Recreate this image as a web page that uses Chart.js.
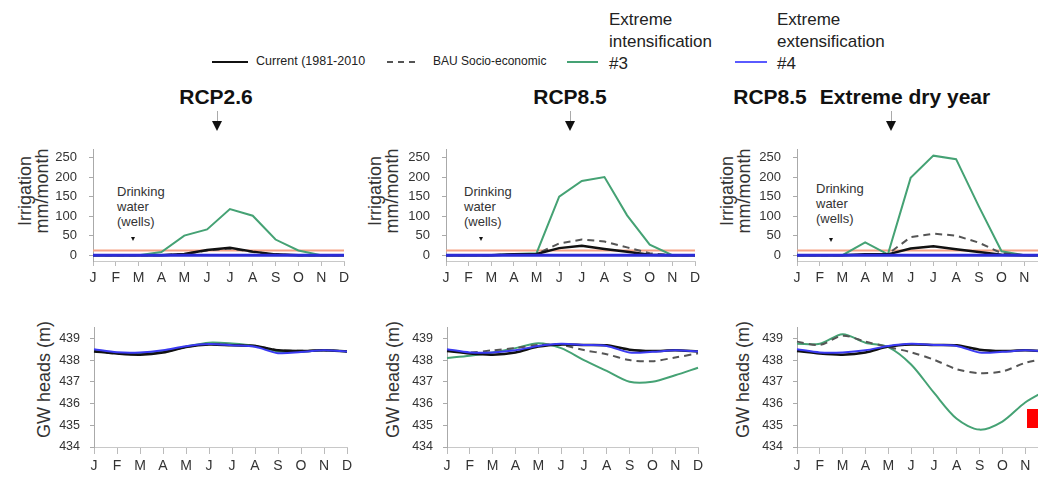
<!DOCTYPE html>
<html>
<head>
<meta charset="utf-8">
<script src="https://cdn.jsdelivr.net/npm/chart.js@4.4.0/dist/chart.umd.min.js"></script>
<style>
  html, body { margin: 0; padding: 0; }
  body {
    width: 1038px; height: 478px; overflow: hidden; position: relative;
    background: #fff; font-family: "Liberation Sans", Arial, sans-serif; color: #222;
  }
  canvas.panel { position: absolute; }
  .title { position: absolute; font-weight: bold; font-size: 21px; transform: translate(-50%, -50%); white-space: nowrap; color: #111; }
  .stem { position: absolute; width: 1px; height: 10px; background: #aaa; }
  .head { position: absolute; width: 0; height: 0; border-left: 5px solid transparent; border-right: 5px solid transparent; border-top: 10px solid #111; }
  .ytitle { position: absolute; width: 140px; text-align: center; font-size: 18px; line-height: 17px; transform: rotate(-90deg); color: #333; white-space: nowrap; }
  .note { position: absolute; font-size: 13px; line-height: 15px; color: #333; }
  .mark { position: absolute; width: 0; height: 0; border-left: 2px solid transparent; border-right: 2px solid transparent; border-top: 4px solid #111; }
  .legline { position: absolute; height: 0; }
  .legtext { position: absolute; white-space: nowrap; color: #222; }
</style>
</head>
<body>

<!-- legend -->
<div class="legline" style="left:212px; top:61px; width:36px; border-top:2.5px solid #111;"></div>
<div class="legtext" style="left:256px; top:54px; font-size:12.5px;">Current (1981-2010</div>
<div class="legline" style="left:387px; top:61px; width:28px; border-top:2px dashed #555;"></div>
<div class="legtext" style="left:433px; top:54px; font-size:12px;">BAU Socio-economic</div>
<div class="legline" style="left:567px; top:61px; width:31px; border-top:2px solid #45a274;"></div>
<div class="legtext" style="left:609px; top:9px; font-size:17px; line-height:22px;">Extreme<br>intensification<br>#3</div>
<div class="legline" style="left:735px; top:61px; width:32px; border-top:2px solid #5a5aff;"></div>
<div class="legtext" style="left:777px; top:9px; font-size:17px; line-height:22px;">Extreme<br>extensification<br>#4</div>

<!-- panel titles and arrows -->
<div class="title" style="left:216px; top:97px;">RCP2.6</div>
<div class="title" style="left:570px; top:97px;">RCP8.5</div>
<div class="title" style="left:770px; top:97px;">RCP8.5</div>
<div class="title" style="left:905px; top:97px;">Extreme dry year</div>
<div class="stem" style="left:217px; top:111px;"></div><div class="head" style="left:212px; top:121px;"></div>
<div class="stem" style="left:570px; top:111px;"></div><div class="head" style="left:565px; top:121px;"></div>
<div class="stem" style="left:891px; top:111px;"></div><div class="head" style="left:886px; top:121px;"></div>

<!-- axis titles -->
<div class="ytitle" style="left:-36px; top:174px;">Irrigation<br>mm/month</div>
<div class="ytitle" style="left:314px; top:174px;">Irrigation<br>mm/month</div>
<div class="ytitle" style="left:666px; top:174px;">Irrigation<br>mm/month</div>
<div class="ytitle" style="left:-26px; top:371px;">GW heads (m)</div>
<div class="ytitle" style="left:323px; top:371px;">GW heads (m)</div>
<div class="ytitle" style="left:673px; top:371px;">GW heads (m)</div>

<!-- drinking water notes -->
<div class="note" style="left:117px; top:184px;">Drinking<br>water<br>(wells)</div>
<div class="mark" style="left:131px; top:237px;"></div>
<div class="note" style="left:464px; top:184px;">Drinking<br>water<br>(wells)</div>
<div class="mark" style="left:479px; top:237px;"></div>
<div class="note" style="left:816px; top:181px;">Drinking<br>water<br>(wells)</div>
<div class="mark" style="left:829px; top:238px;"></div>

<canvas class="panel" id="irr26"></canvas>
<canvas class="panel" id="irr85"></canvas>
<canvas class="panel" id="irrDry"></canvas>
<canvas class="panel" id="gw26"></canvas>
<canvas class="panel" id="gw85"></canvas>
<canvas class="panel" id="gwDry"></canvas>

<div style="position:absolute; left:1027px; top:409px; width:11px; height:19px; background:#ff0000;"></div>

<script>
const months = ["J", "F", "M", "A", "M", "J", "J", "A", "S", "O", "N", "D"];
const irrTicks = [0, 50, 100, 150, 200, 250];
const irrMinorTicks = [0, 25, 50, 75, 100, 125, 150, 175, 200, 225, 250];
const gwTicks = [434, 435, 436, 437, 438, 439];
const gwMinorTicks = [434, 434.5, 435, 435.5, 436, 436.5, 437, 437.5, 438, 438.5, 439, 439.5];

const drinkingWater = [12, 12, 12, 12, 12, 12, 12, 12, 12, 12, 12, 12];

// irrigation, mm/month
const irr26Current = [0, 0, 0, 0, 3, 13, 19, 9, 2, 0, 0, 0];
const irr26Bau     = [0, 0, 0, 0, 3, 12, 17, 8, 2, 0, 0, 0];
const irr26Int     = [0, 0, 0, 8, 50, 66, 118, 101, 40, 12, 0, 0];
const irr26Ext     = [0, 0, 0, 0, 0, 0, 0, 0, 0, 0, 0, 0];

const irr85Current = [0, 0, 0, 2, 3, 18, 24, 16, 9, 1, 0, 0];
const irr85Bau     = [0, 0, 0, 2, 3, 30, 40, 35, 20, 5, 0, 0];
const irr85Int     = [0, 0, 0, 3, 5, 150, 190, 200, 102, 27, 0, 0];
const irr85Ext     = [0, 0, 0, 0, 0, 0, 0, 0, 0, 0, 0, 0];

const irrDryCurrent = [0, 0, 0, 2, 2, 17, 23, 15, 8, 1, 0, 0];
const irrDryBau     = [0, 0, 0, 1, 3, 46, 55, 50, 32, 5, 0, 0];
const irrDryInt     = [0, 0, 0, 33, 2, 198, 255, 246, 125, 10, 0, 0];
const irrDryExt     = [0, 0, 0, 0, 0, 0, 0, 0, 0, 0, 0, 0];

// groundwater heads, m
const gw26Current = [438.4, 438.3, 438.25, 438.35, 438.6, 438.72, 438.68, 438.65, 438.45, 438.42, 438.45, 438.4];
const gw26Bau     = [438.42, 438.3, 438.27, 438.36, 438.6, 438.73, 438.7, 438.66, 438.46, 438.43, 438.45, 438.4];
const gw26Int     = [438.45, 438.32, 438.3, 438.4, 438.62, 438.8, 438.76, 438.65, 438.4, 438.38, 438.45, 438.4];
const gw26Ext     = [438.5, 438.36, 438.35, 438.45, 438.64, 438.74, 438.68, 438.61, 438.32, 438.37, 438.45, 438.4];

const gw85Current = [438.42, 438.3, 438.25, 438.35, 438.62, 438.72, 438.7, 438.68, 438.48, 438.42, 438.45, 438.4];
const gw85Bau     = [438.45, 438.35, 438.45, 438.55, 438.7, 438.7, 438.46, 438.27, 438.0, 437.95, 438.12, 438.31];
const gw85Int     = [438.1, 438.2, 438.35, 438.55, 438.78, 438.55, 438.0, 437.5, 437.0, 437.0, 437.3, 437.65];
const gw85Ext     = [438.5, 438.35, 438.35, 438.45, 438.65, 438.75, 438.7, 438.65, 438.35, 438.38, 438.45, 438.4];

const gwDryCurrent = [438.42, 438.3, 438.25, 438.35, 438.62, 438.72, 438.7, 438.68, 438.48, 438.42, 438.45, 438.4];
const gwDryBau     = [438.85, 438.7, 439.12, 438.85, 438.6, 438.36, 438.02, 437.58, 437.4, 437.48, 437.87, 438.1];
const gwDryInt     = [438.75, 438.75, 439.19, 438.8, 438.6, 437.8, 436.5, 435.3, 434.8, 435.17, 436.05, 436.65];
const gwDryExt     = [438.5, 438.35, 438.35, 438.45, 438.65, 438.75, 438.7, 438.65, 438.35, 438.38, 438.45, 438.4];

const FONT = "'Liberation Sans', Arial, sans-serif";

function line(data, color, width, dash, tension) {
  return {
    data: data,
    borderColor: color,
    borderWidth: width,
    borderDash: dash || [],
    pointRadius: 0,
    fill: false,
    tension: tension || 0,
  };
}

// box = [left, top, width, height, yAxisWidth, padTop]
function makePanel(id, box, yScale, sets) {
  const canvas = document.getElementById(id);
  canvas.width = box[2];
  canvas.height = box[3];
  canvas.style.left = box[0] + "px";
  canvas.style.top = box[1] + "px";

  return new Chart(canvas, {
    type: "line",
    data: { labels: months, datasets: sets },
    options: {
      responsive: false,
      animation: false,
      layout: { padding: { left: 0, right: 16, top: box[5], bottom: 0 } },
      plugins: { legend: { display: false }, tooltip: { enabled: false } },
      scales: {
        x: {
          grid: { drawOnChartArea: false, color: "#bbb", tickLength: yScale.xTick },
          border: { color: "#c8c8c8" },
          ticks: { autoSkip: false, maxRotation: 0, padding: 4, color: "#333", font: { family: FONT, size: 14 } },
          afterFit: (s) => { s.height = 30; },
        },
        y: {
          min: yScale.min,
          max: yScale.max,
          grid: { drawOnChartArea: false, color: "#aaa", tickLength: 4 },
          border: { color: "#aaa" },
          ticks: {
            padding: yScale.pad,
            color: "#333",
            font: { family: FONT, size: yScale.font },
            callback: (v) => (yScale.labels.includes(v) ? v : ""),
          },
          afterBuildTicks: (s) => { s.ticks = yScale.minor.map((v) => ({ value: v })); },
          afterFit: (s) => { s.width = box[4]; },
        },
      },
    },
  });
}

const irrAxis = { min: -15, max: 270, labels: irrTicks, minor: irrMinorTicks, font: 13, pad: 12, xTick: 5 };
const gwAxis = { min: 434, max: 439.5, labels: gwTicks, minor: gwMinorTicks, font: 12.5, pad: 10, xTick: 7 };

function irrSets(cur, bau, int, ext) {
  return [
    line(ext, "#2b2bd6", 3),
    line(cur, "#111111", 2.5),
    line(bau, "#555555", 2, [7, 5]),
    line(int, "#45a274", 2),
    line(drinkingWater, "#f6a284", 2),
  ];
}

function gwSets(cur, bau, int, ext) {
  return [
    line(ext, "#3a3af2", 2, null, 0.3),
    line(cur, "#111111", 2.5, null, 0.3),
    line(bau, "#555555", 2, [7, 5], 0.3),
    line(int, "#45a274", 2, null, 0.3),
  ];
}

makePanel("irr26", [0, 130, 360, 161, 93, 10], irrAxis, irrSets(irr26Current, irr26Bau, irr26Int, irr26Ext));
makePanel("irr85", [360, 130, 351, 161, 86, 10], irrAxis, irrSets(irr85Current, irr85Bau, irr85Int, irr85Ext));
makePanel("irrDry", [711, 130, 352, 161, 86, 10], irrAxis, irrSets(irrDryCurrent, irrDryBau, irrDryInt, irrDryExt));

makePanel("gw26", [0, 310, 363, 167, 94, 10], gwAxis, gwSets(gw26Current, gw26Bau, gw26Int, gw26Ext));
makePanel("gw85", [360, 310, 354, 167, 87, 10], gwAxis, gwSets(gw85Current, gw85Bau, gw85Int, gw85Ext));
makePanel("gwDry", [711, 310, 353, 167, 86, 10], gwAxis, gwSets(gwDryCurrent, gwDryBau, gwDryInt, gwDryExt));
</script>
</body>
</html>
